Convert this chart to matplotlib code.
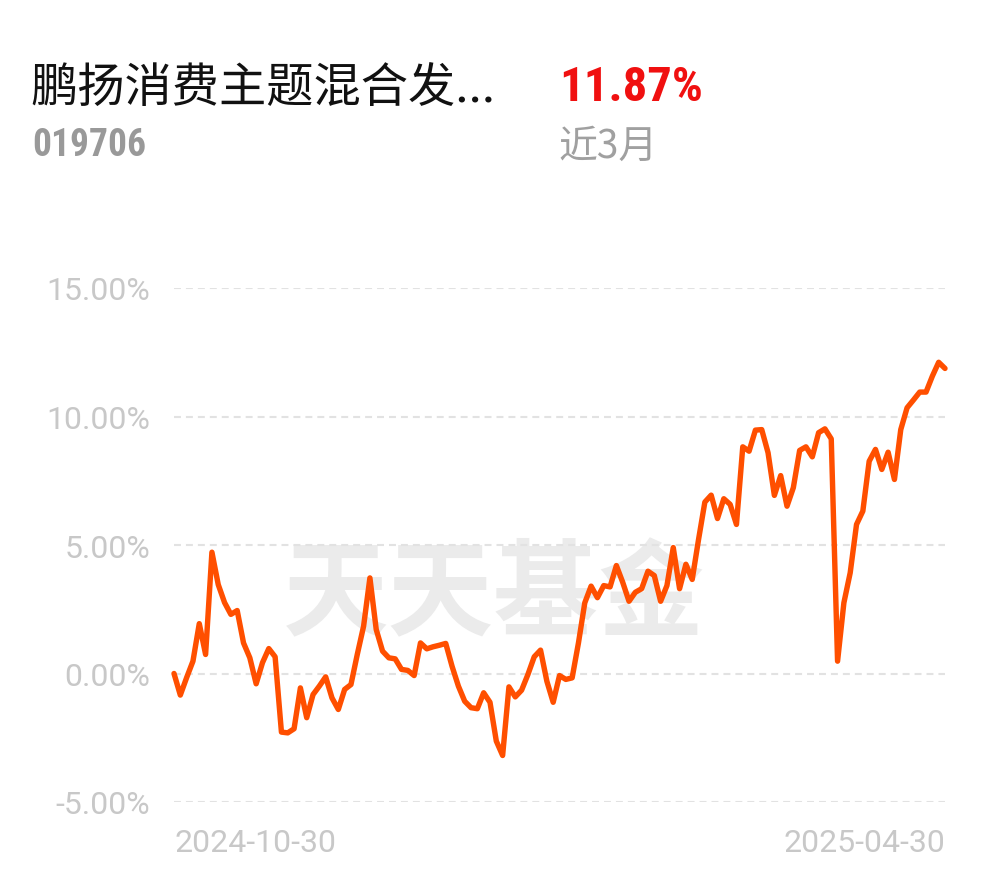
import matplotlib
matplotlib.use("Agg")
import matplotlib.pyplot as plt
from matplotlib import font_manager

# cumulative return, %, one value per trading day
returns = [0.00, -0.84, -0.16, 0.48, 1.94, 0.74, 4.72, 3.46, 2.76, 2.30,
           2.45, 1.19, 0.61, -0.40, 0.42, 0.97, 0.65, -2.28, -2.31, -2.15,
           -0.56, -1.72, -0.82, -0.49, -0.13, -0.95, -1.40, -0.62, -0.43, 0.74,
           1.84, 3.72, 1.71, 0.87, 0.61, 0.57, 0.16, 0.12, -0.08, 1.19,
           0.96, 1.04, 1.10, 1.17, 0.28, -0.49, -1.08, -1.33, -1.37, -0.75,
           -1.12, -2.63, -3.19, -0.52, -0.91, -0.65, -0.04, 0.65, 0.91, -0.30,
           -1.12, -0.08, -0.23, -0.17, 1.19, 2.75, 3.40, 2.95, 3.42, 3.37,
           4.20, 3.55, 2.81, 3.16, 3.30, 3.98, 3.81, 2.81, 3.42, 4.90,
           3.30, 4.25, 3.66, 5.21, 6.67, 6.94, 6.03, 6.80, 6.58, 5.80,
           8.82, 8.65, 9.47, 9.49, 8.59, 6.93, 7.70, 6.51, 7.23, 8.68,
           8.82, 8.43, 9.37, 9.52, 9.13, 0.48, 2.75, 3.92, 5.80, 6.32,
           8.26, 8.72, 7.94, 8.61, 7.55, 9.49, 10.34, 10.64, 10.95, 10.95,
           11.57, 12.11, 11.87]
y_ticks = [-5, 0, 5, 10, 15]
start_date = "2024-10-30"
end_date = "2025-04-30"
fund_name = "鹏扬消费主题混合发..."
fund_code = "019706"
period_return = "11.87%"
period_label = "近3月"

names = {f.name for f in font_manager.fontManager.ttflist}
narrow = "Roboto"
for cand in ["Roboto Condensed", "Liberation Sans Narrow", "DejaVu Sans Condensed"]:
    if cand in names:
        narrow = cand
        break

plt.rcParams["lines.scale_dashes"] = False
cjk = ["Noto Sans CJK SC", "DejaVu Sans"]

fig = plt.figure(figsize=(9.9, 8.78), dpi=100)
ax = fig.add_axes([174 / 990, 75 / 878, 771 / 990, 514 / 878])

x = list(range(len(returns)))
ax.plot(x, returns, color="#ff4f00", linewidth=3.9, solid_joinstyle="round",
        solid_capstyle="round", zorder=3, clip_on=False)

for t in y_ticks:
    ax.axhline(t, color="#e2e2e2", linewidth=1.5, linestyle=(0, (5, 3.6)), zorder=1)

ax.set_xlim(0, len(returns) - 1)
ax.set_ylim(-5, 15)
ax.set_yticks(y_ticks)
ax.set_yticklabels(["%.2f%%" % t for t in y_ticks], family="Roboto",
                   fontsize=23, color="#c8c8c8")
ax.set_xticks([0, len(returns) - 1])
ax.set_xticklabels([start_date, end_date], family="Roboto", fontsize=23, color="#c8c8c8")
xl = ax.get_xticklabels()
xl[0].set_ha("left")
xl[1].set_ha("right")
ax.tick_params(length=0)
ax.tick_params(axis="y", pad=17)
ax.tick_params(axis="x", pad=19)
for s in ax.spines.values():
    s.set_visible(False)

# watermark
ax.text(0.415, 0.4, "天天基金", transform=ax.transAxes, ha="center", va="center",
        family=cjk, fontsize=76, fontweight="bold", color="#ebebeb", zorder=0)

fig.text(30 / 990, 1 - 90 / 878, fund_name, family=cjk, fontsize=34,
         color="#111111", ha="left", va="center")
fig.text(559 / 990, 1 - 88 / 878, period_return, family=narrow, fontsize=35,
         fontweight="bold", color="#f01010", ha="left", va="center")
fig.text(32 / 990, 1 - 146 / 878, fund_code, family=narrow, fontsize=27,
         fontweight="bold", color="#999999", ha="left", va="center")
fig.text(558 / 990, 1 - 147 / 878, period_label, family=cjk, fontsize=28,
         color="#a0a0a0", ha="left", va="center")

fig.savefig("out.png", dpi=100, facecolor="white")
